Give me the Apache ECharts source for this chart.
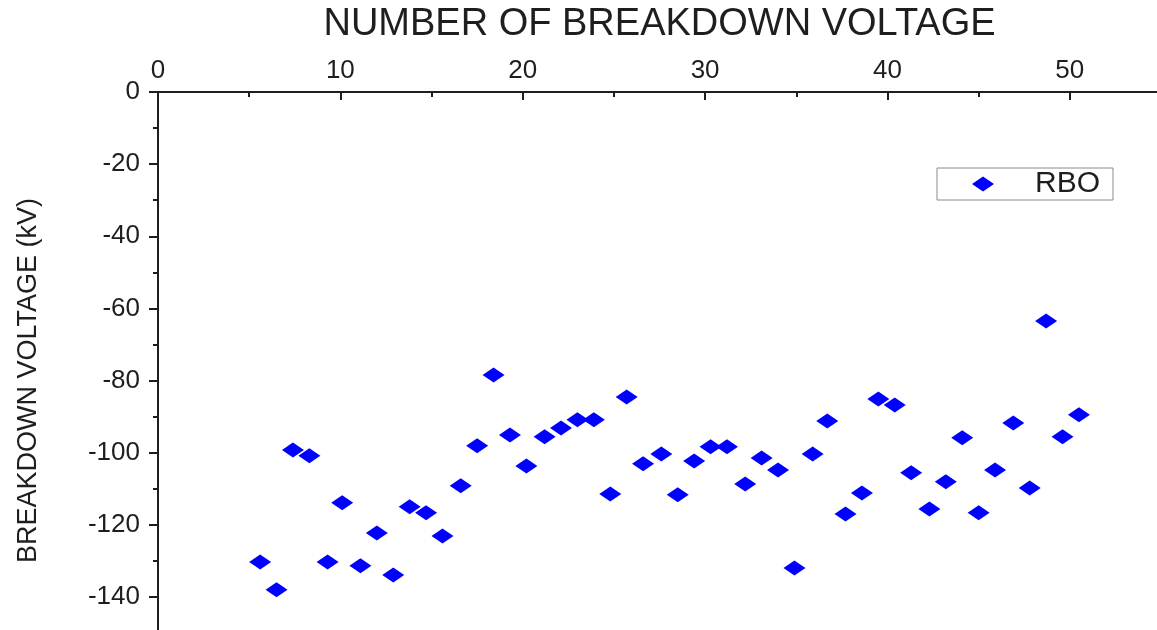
<!DOCTYPE html>
<html>
<head>
<meta charset="utf-8">
<style>html,body{margin:0;padding:0;background:#fff;}#c{width:1157px;height:630px;}</style>
<script src="https://cdn.jsdelivr.net/npm/echarts@6/dist/echarts.min.js"></script>
</head>
<body>
<div id="c"></div>
<script>
const seriesName = 'RBO';
const xValues = [5.6, 6.5, 7.4, 8.3, 9.3, 10.1, 11.1, 12.0, 12.9, 13.8,
                 14.7, 15.6, 16.6, 17.5, 18.4, 19.3, 20.2, 21.2, 22.1, 23.0,
                 23.9, 24.8, 25.7, 26.6, 27.6, 28.5, 29.4, 30.3, 31.2, 32.2,
                 33.1, 34.0, 34.9, 35.9, 36.7, 37.7, 38.6, 39.5, 40.4, 41.3,
                 42.3, 43.2, 44.1, 45.0, 45.9, 46.9, 47.8, 48.7, 49.6, 50.5];
const yValues = [-130.3, -138.0, -99.3, -100.9, -130.3, -113.9, -131.4, -122.3, -133.9, -115.0,
                 -116.7, -123.1, -109.2, -98.1, -78.5, -95.1, -103.7, -95.6, -93.2, -90.9,
                 -90.9, -111.5, -84.6, -103.1, -100.4, -111.7, -102.3, -98.4, -98.4, -108.7,
                 -101.5, -104.8, -132.0, -100.4, -91.2, -117.0, -111.2, -85.1, -86.8, -105.6,
                 -115.6, -108.1, -95.9, -116.7, -104.8, -91.8, -109.8, -63.5, -95.6, -89.5];
const xAxisTitle = 'NUMBER OF BREAKDOWN VOLTAGE';
const yAxisTitle = 'BREAKDOWN VOLTAGE (kV)';

const points = xValues.map((x, i) => [x, yValues[i]]);
const font = '"Liberation Sans", Arial, sans-serif';
const ink = '#1e1e1e';

const chart = echarts.init(document.getElementById('c'));
chart.setOption({
  animation: false,
  backgroundColor: '#fff',
  grid: { left: 158, top: 92, width: 1003, height: 577, outerBoundsMode: 'none', containLabel: false },
  legend: {
    left: 937, top: 168,
    orient: 'vertical',
    data: [seriesName],
    icon: 'diamond',
    itemWidth: 22, itemHeight: 15,
    borderColor: '#8a8a8a', borderWidth: 1,
    padding: [1, 13, 1, 35],
    textStyle: { fontFamily: font, fontSize: 30, color: ink, padding: [0, 0, 0, 36], lineHeight: 28 }
  },
  xAxis: {
    type: 'value', position: 'top',
    min: 0, max: 55, interval: 10,
    name: xAxisTitle, nameLocation: 'middle', nameGap: 48,
    nameTextStyle: { fontFamily: font, fontSize: 38, color: ink },
    axisLine: { show: true, onZero: false, lineStyle: { color: ink, width: 2 } },
    axisTick: { show: true, inside: true, length: 8, lineStyle: { color: ink, width: 2 } },
    minorTick: { show: true, splitNumber: 2, length: 5, lineStyle: { color: ink, width: 2 } },
    axisLabel: { fontFamily: font, fontSize: 26, color: ink, margin: 8, showMaxLabel: false },
    splitLine: { show: false }
  },
  yAxis: {
    type: 'value',
    min: -160, max: 0, interval: 20,
    name: yAxisTitle, nameLocation: 'middle', nameGap: 116, nameRotate: 90,
    nameTextStyle: { fontFamily: font, fontSize: 27, color: ink },
    axisLine: { show: true, onZero: false, lineStyle: { color: ink, width: 2 } },
    axisTick: { show: true, inside: false, length: 9, lineStyle: { color: ink, width: 2 } },
    minorTick: { show: true, splitNumber: 2, length: 5, lineStyle: { color: ink, width: 2 } },
    axisLabel: { fontFamily: font, fontSize: 26, color: ink, margin: 18, showMinLabel: false },
    splitLine: { show: false }
  },
  series: [{
    name: seriesName,
    type: 'scatter',
    symbol: 'diamond',
    symbolSize: [22, 15],
    itemStyle: { color: '#0000ff', opacity: 1 },
    data: points
  }]
});
</script>
</body>
</html>
